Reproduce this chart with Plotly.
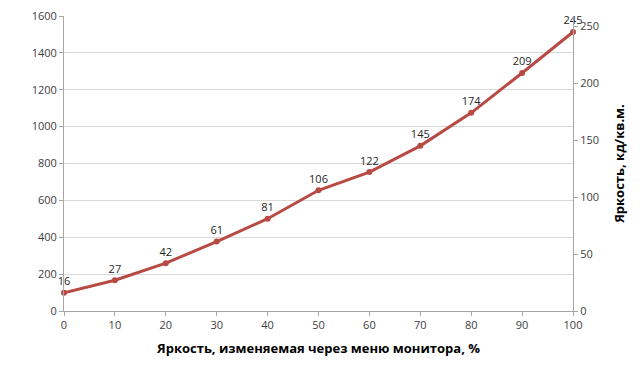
import plotly.graph_objects as go

x_vals = [0, 10, 20, 30, 40, 50, 60, 70, 80, 90, 100]
brightness = [16, 27, 42, 61, 81, 106, 122, 145, 174, 209, 245]
left_ticks = [0, 200, 400, 600, 800, 1000, 1200, 1400, 1600]
right_ticks = [0, 50, 100, 150, 200, 250]

x_title = "Яркость, изменяемая через меню монитора, %"
y2_title = "Яркость, кд/кв.м."

font_family = "Open Sans, Liberation Sans, sans-serif"
axis_col = "#A6A6A6"
line_col = "#B84A44"

fig = go.Figure()
# invisible trace for left axis
fig.add_trace(go.Scatter(x=[x_vals[0]], y=[left_ticks[0]], mode="markers",
                         marker=dict(opacity=0), showlegend=False, hoverinfo="skip"))
fig.add_trace(go.Scatter(
    x=x_vals, y=brightness, yaxis="y2",
    mode="lines+markers+text",
    text=[str(v) for v in brightness], textposition="top center",
    textfont=dict(size=11, color="#262626", family=font_family),
    line=dict(color=line_col, width=3),
    marker=dict(color=line_col, size=6),
    showlegend=False, cliponaxis=False,
))

# page body has an 8px margin, so the figure is sized to fit the window
fig.update_layout(
    width=632, height=357,
    margin=dict(l=56, r=67, t=8, b=54, autoexpand=False),
    paper_bgcolor="white", plot_bgcolor="white",
    font=dict(family=font_family, size=11, color="#404040"),
    xaxis=dict(range=[0, 100], tickvals=x_vals, showgrid=False, showline=True,
               linecolor=axis_col, linewidth=1, ticks="outside", ticklen=4,
               tickcolor=axis_col, zeroline=False, automargin=False,
               ticklabeloverflow="allow",
               title=dict(text="<b>" + x_title + "</b>", font=dict(size=13, color="#000000"),
                          standoff=12)),
    yaxis=dict(range=[0, 1600], tickvals=left_ticks, tickformat="d", showgrid=True,
               gridcolor="#D9D9D9", showline=True, linecolor=axis_col, ticks="outside",
               ticklen=4, tickcolor=axis_col, zeroline=False, automargin=False,
               ticklabeloverflow="allow"),
    yaxis2=dict(range=[0, 259], tickvals=right_ticks, overlaying="y", side="right",
                showgrid=False, showline=True, linecolor=axis_col, ticks="outside",
                ticklen=4, tickcolor=axis_col, zeroline=False, automargin=False,
                ticklabeloverflow="allow",
                title=dict(text="<b>" + y2_title + "</b>", font=dict(size=13, color="#000000"),
                           standoff=16)),
)

fig.write_html("out.html")
